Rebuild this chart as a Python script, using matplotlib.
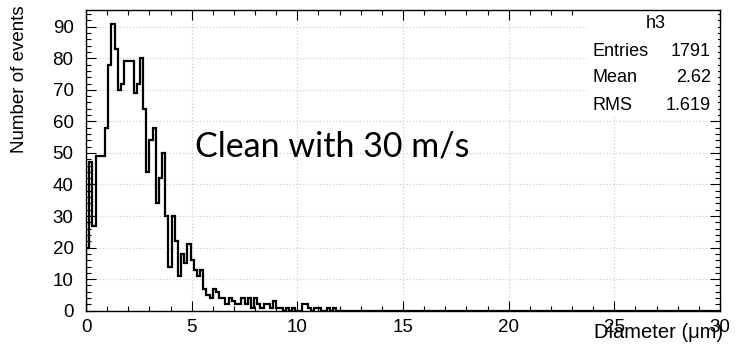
import numpy as np
import matplotlib.pyplot as plt
from matplotlib.ticker import MultipleLocator
from matplotlib.patches import Rectangle

# histogramme h3 : 200 bins de 0 a 30 um
x_min, x_max, n_bins = 0.0, 30.0, 200
counts = [
    20, 47, 27, 49, 49, 49, 58, 78, 91, 83,
    70, 72, 79, 79, 79, 69, 72, 80, 64, 44,
    54, 58, 34, 42, 50, 30, 14, 30, 22, 11,
    18, 15, 21, 16, 13, 11, 13, 7, 5, 4,
    7, 6, 4, 4, 2, 4, 3, 2, 2, 4,
    2, 4, 1, 4, 2, 1, 2, 2, 1, 3,
    1, 1, 0, 1, 0, 1, 0, 0, 2, 2,
    1, 0, 1, 1, 0, 0, 1, 0, 1,
]
counts = counts + [0] * (n_bins - len(counts))

stat_names = ["Entries", "Mean", "RMS"]
stat_values = ["1791", "2.62", "1.619"]
hist_name = "h3"

W, H = 737, 347
fig = plt.figure(figsize=(W / 100, H / 100), dpi=100)
ax = fig.add_axes([86 / W, 1 - 310.7 / H, (720 - 86) / W, (310.7 - 10) / H])

edges = np.linspace(x_min, x_max, n_bins + 1)
ax.stairs(counts, edges, color='black', lw=1.6, baseline=0)

ax.set_xlim(x_min, x_max)
ax.set_ylim(0, 95.3)

ax.xaxis.set_major_locator(MultipleLocator(5))
ax.xaxis.set_minor_locator(MultipleLocator(1))
ax.yaxis.set_major_locator(MultipleLocator(10))
ax.yaxis.set_minor_locator(MultipleLocator(2))
ax.tick_params(which='both', direction='in', top=True, right=True, labelsize=13.5)
ax.tick_params(which='major', length=7, width=0.8)
ax.tick_params(which='minor', length=3.5, width=0.8)
ax.tick_params(axis='x', pad=6)
ax.tick_params(axis='y', pad=9)
for lab in ax.get_xticklabels() + ax.get_yticklabels():
    lab.set_fontfamily('Liberation Sans')

ax.grid(True, which='major', linestyle=(0, (1, 2)), color='#c8c8c8', lw=0.8)
ax.set_axisbelow(True)
for s in ax.spines.values():
    s.set_linewidth(1.0)

# boite de statistiques (fond blanc, pas de bord)
ax.add_patch(Rectangle((587 / W, 1 - 117 / H), (718 - 587) / W, (117 - 11) / H,
                       transform=fig.transFigure, facecolor='white',
                       edgecolor='none', zorder=1.5))
fig.text(656 / W, 1 - 24 / H, hist_name, ha='center', va='center',
         fontsize=13, family='Liberation Sans')
for i in range(len(stat_names)):
    y = 1 - (51 + 27 * i) / H
    fig.text(592 / W, y, stat_names[i], ha='left', va='center',
             fontsize=13, family='Liberation Sans')
    fig.text(711 / W, y, stat_values[i], ha='right', va='center',
             fontsize=13, family='Liberation Sans')

fig.text(195 / W, 1 - 146 / H, "Clean with 30 m/s", ha='left', va='center',
         fontsize=24.5, family='Lato')

fig.text(20 / W, 1 - 5 / H, "Number of events", rotation=90, ha='center',
         va='top', fontsize=13.5, family='Liberation Sans')
fig.text(723 / W, 1 - 332 / H, "Diameter (\u03bcm)", ha='right', va='center',
         fontsize=14.5, family='Liberation Sans')

fig.savefig('out.png', dpi=100)
